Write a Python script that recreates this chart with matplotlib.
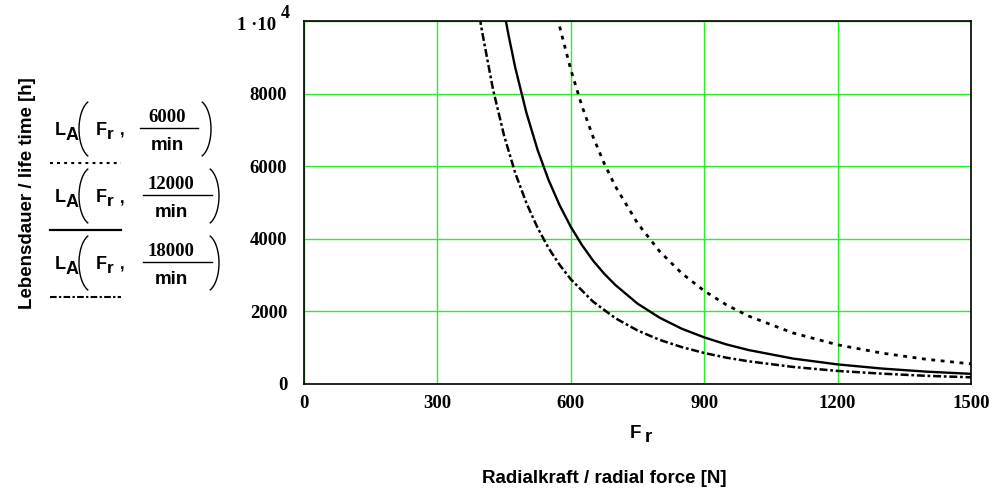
import matplotlib

matplotlib.use("Agg")
import numpy as np
import matplotlib.pyplot as plt
from matplotlib.lines import Line2D

# radial force [N] and read-off life times [h] for the three speeds
force_6000 = [570, 575, 600, 625, 650, 675, 700, 750, 800, 850, 900, 950, 1000, 1100, 1200, 1300, 1400, 1500]
life_6000 = [10100, 9840, 8660, 7660, 6810, 6080, 5450, 4430, 3650, 3045, 2565, 2180, 1870, 1405, 1080, 850, 680, 555]

force_12000 = [450, 460, 475, 500, 525, 550, 575, 600, 625, 650, 675, 700, 750, 800, 850, 900, 950, 1000,
               1100, 1200, 1300, 1400, 1500]
life_12000 = [10260, 9610, 8720, 7480, 6460, 5620, 4920, 4330, 3830, 3400, 3040, 2730, 2215, 1825, 1520,
              1285, 1090, 935, 700, 540, 425, 340, 280]

force_18000 = [395, 400, 425, 450, 475, 500, 525, 550, 575, 600, 650, 700, 750, 800, 850, 900, 950, 1000,
               1100, 1200, 1300, 1400, 1500]
life_18000 = [10110, 9740, 8120, 6840, 5815, 4990, 4310, 3745, 3280, 2885, 2270, 1815, 1475, 1215, 1015,
              855, 725, 625, 470, 360, 285, 225, 185]

speed_labels = ["6000", "12000", "18000"]
x_ticks = [0, 300, 600, 900, 1200, 1500]
y_ticks = [0, 2000, 4000, 6000, 8000, 10000]

W, H = 997, 490
SERIF = "Liberation Serif"
SANS = "Liberation Sans"
GRID = "#2bee2b"

styles = [
    dict(color="black", linewidth=2.0, linestyle=(0, (1.4, 2.0))),
    dict(color="black", linewidth=1.7, linestyle="-"),
    dict(color="black", linewidth=1.8, linestyle=(0, (3.2, 1.1, 1.1, 1.1))),
]


def fx(x):
    return x / W


def fy(y):
    return 1 - y / H


def bracket(cx, cy, left=True, a=14, b=29):
    # thin Mathcad-style bracket, drawn in pixel space
    t = np.radians(np.linspace(112, 248, 40)) if left else np.radians(np.linspace(-68, 68, 40))
    xs = [fx(cx + a * np.cos(v)) for v in t]
    ys = [fy(cy - b * np.sin(v)) for v in t]
    fig.add_artist(Line2D(xs, ys, color="black", linewidth=1.0))


fig = plt.figure(figsize=(W / 100, H / 100), dpi=100)
ax = fig.add_axes([fx(304), fy(384), fx(971) - fx(304), fy(21) - fy(384)])

series = [(force_6000, life_6000), (force_12000, life_12000), (force_18000, life_18000)]
for (f, l), st in zip(series, styles):
    ax.plot(f, l, zorder=3, **st)

ax.set_xlim(0, 1500)
ax.set_ylim(0, 10000)
ax.set_xticks(x_ticks)
ax.set_yticks(y_ticks)
ax.set_xticklabels([str(v) for v in x_ticks], fontfamily=SERIF, fontweight="bold", fontsize=13.5)
ax.set_yticklabels([str(v) for v in y_ticks[:-1]] + [""], fontfamily=SERIF, fontweight="bold", fontsize=13.5)
ax.tick_params(axis="both", length=0)
ax.tick_params(axis="x", pad=8)
ax.tick_params(axis="y", pad=12)
ax.grid(True, color=GRID, linewidth=1.0, zorder=1)
ax.set_axisbelow(True)
for sp in ax.spines.values():
    sp.set_linewidth(1.2)
    sp.set_zorder(4)

# top tick label written as 1 ·10^4
fig.text(fx(276), fy(26), "1 \u00b710", ha="right", va="center", fontfamily=SERIF, fontweight="bold", fontsize=13.5)
fig.text(fx(281), fy(14), "4", ha="left", va="center", fontfamily=SERIF, fontweight="bold", fontsize=13)

# axis labels
fig.text(fx(630), fy(438), "F", ha="left", va="baseline", fontfamily=SANS, fontweight="bold", fontsize=13.5)
fig.text(fx(645), fy(442), "r", ha="left", va="baseline", fontfamily=SANS, fontweight="bold", fontsize=13.5)
fig.text(fx(604), fy(478), "Radialkraft / radial force [N]", ha="center", va="center",
         fontfamily=SANS, fontweight="bold", fontsize=13.5)
fig.text(fx(28), fy(193), "Lebensdauer / life time [h]", ha="center", va="center", rotation=90,
         fontfamily=SANS, fontweight="bold", fontsize=13.5)

# legend built like the Mathcad trace labels
num_center = [167, 171, 171]
bar_span = [(140, 198), (143, 212), (143, 212)]
close_x = [211, 219, 219]
for i, (lab, st) in enumerate(zip(speed_labels, styles)):
    dy = 67 * i
    kw = dict(fontfamily=SANS, fontweight="bold", va="baseline")
    fig.text(fx(55), fy(135 + dy), "L", fontsize=13, **kw)
    fig.text(fx(66), fy(140 + dy), "A", fontsize=13, **kw)
    fig.text(fx(96), fy(135 + dy), "F", fontsize=13, **kw)
    fig.text(fx(107), fy(139 + dy), "r", fontsize=12.5, **kw)
    fig.text(fx(120), fy(136 + dy), ",", fontsize=12, **kw)
    fig.text(fx(num_center[i]), fy(122 + dy), lab, ha="center", va="baseline",
             fontfamily=SERIF, fontweight="bold", fontsize=13.5)
    fig.text(fx(num_center[i]), fy(150 + dy), "min", ha="center", va="baseline",
             fontfamily=SANS, fontweight="bold", fontsize=13.5)
    x0, x1 = bar_span[i]
    fig.add_artist(Line2D([fx(x0), fx(x1)], [fy(128 + dy), fy(128 + dy)], color="black", linewidth=1.0))
    bracket(93, 129 + dy, left=True)
    bracket(close_x[i] - 14, 129 + dy, left=False)
    lw = 1.5 if i != 1 else 1.6
    fig.add_artist(Line2D([fx(50), fx(121)], [fy(163 + dy), fy(163 + dy)], color="black",
                          linewidth=lw, linestyle=st["linestyle"]))

fig.savefig("out.png", dpi=100)
